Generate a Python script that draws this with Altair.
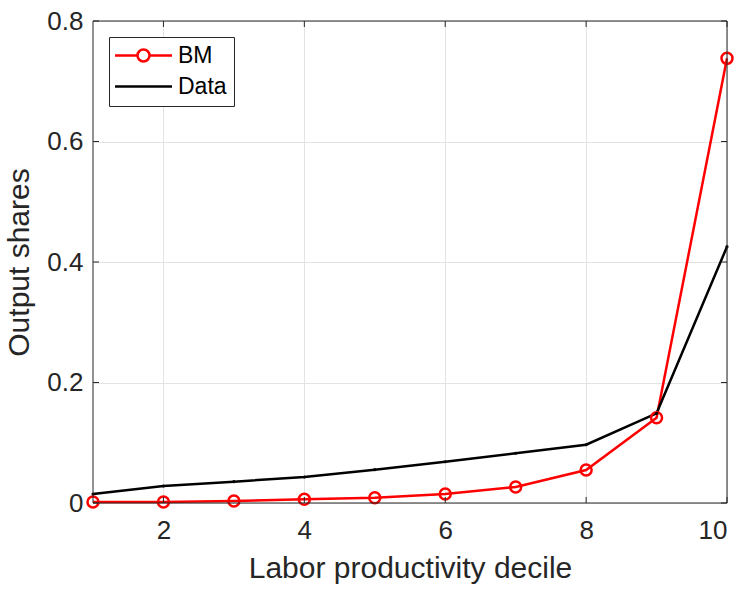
import altair as alt
import pandas as pd

deciles = list(range(1, 11))
bm = [0.0017, 0.0017, 0.0033, 0.0061, 0.0088, 0.0149, 0.0266, 0.0548, 0.1416, 0.738]
data_vals = [0.0149, 0.0282, 0.0354, 0.0432, 0.0553, 0.0685, 0.0825, 0.0968, 0.1489, 0.4254]
series_names = ["BM", "Data"]
series_colors = ["#ff0000", "#000000"]
x_ticks = [2, 4, 6, 8, 10]
y_ticks = [0, 0.2, 0.4, 0.6, 0.8]

df = pd.DataFrame({
    "decile": deciles * 2,
    "share": bm + data_vals,
    "series": ["BM"] * 10 + ["Data"] * 10,
})
df_xt = pd.DataFrame({"decile": x_ticks})
df_yt = pd.DataFrame({"share": y_ticks})
df_one = pd.DataFrame({"a": [0]})

W, H = 634, 482
FONT = "Liberation Sans"
TXT = "#262626"

xscale = alt.Scale(domain=[1, 10], nice=False, zero=False)
yscale = alt.Scale(domain=[0, 0.8], nice=False)

x_enc = alt.X("decile:Q", scale=xscale, title="Labor productivity decile",
              axis=alt.Axis(values=x_ticks, labelPadding=14, titlePadding=10))
y_enc = alt.Y("share:Q", scale=yscale, title="Output shares",
              axis=alt.Axis(values=y_ticks, format=".1~f", labelPadding=10, titlePadding=12))

bm_path = "M-4.75,0H-1M1,0H4.75M1,0A1,1,0,1,1,-1,0A1,1,0,1,1,1,0"
data_path = "M-4.75,0H4.75"
sym_expr = f"datum.value === 'BM' ? '{bm_path}' : '{data_path}'"

lines = alt.Chart(df).mark_line(strokeWidth=2.5).encode(
    x=x_enc,
    y=y_enc,
    color=alt.Color("series:N",
                    scale=alt.Scale(domain=series_names, range=series_colors),
                    legend=alt.Legend(
                        title=None, orient="none", legendX=16, legendY=16,
                        labelFont=FONT, labelFontSize=23, labelColor="#000000",
                        strokeColor=TXT, fillColor="#ffffff", padding=7,
                        symbolType={"expr": sym_expr}, symbolSize=144,
                        symbolStrokeWidth=2.5, symbolFillColor="#ffffff",
                        symbolOffset=16, labelOffset=23, rowPadding=7,
                        cornerRadius=0)),
)

bm_pts = alt.Chart(df).transform_filter(alt.datum.series == "BM").mark_point(
    shape="circle", size=121, strokeWidth=2.5, filled=False, color="#ff0000", opacity=1
).encode(x=x_enc, y=y_enc)

data_pts = alt.Chart(df).transform_filter(alt.datum.series == "Data").mark_circle(
    size=10, color="#000000", opacity=1
).encode(x=x_enc, y=y_enc)

box = alt.Chart(df_one).mark_rect(fill=None, stroke=TXT, strokeWidth=1).encode(
    x=alt.value(0), x2=alt.value(W), y=alt.value(0), y2=alt.value(H))

tick_bottom = alt.Chart(df_xt).mark_rule(color=TXT, strokeWidth=1).encode(
    x=x_enc, y=alt.value(H), y2=alt.value(H - 6))
tick_top = alt.Chart(df_xt).mark_rule(color=TXT, strokeWidth=1).encode(
    x=x_enc, y=alt.value(0), y2=alt.value(6))
tick_left = alt.Chart(df_yt).mark_rule(color=TXT, strokeWidth=1).encode(
    y=y_enc, x=alt.value(0), x2=alt.value(6))
tick_right = alt.Chart(df_yt).mark_rule(color=TXT, strokeWidth=1).encode(
    y=y_enc, x=alt.value(W - 6), x2=alt.value(W))

chart = alt.layer(
    lines, bm_pts, data_pts, box, tick_bottom, tick_top, tick_left, tick_right
).properties(
    width=W, height=H,
    autosize=alt.AutoSizeParams(type="none"),
    padding={"left": 93, "top": 21, "right": 16, "bottom": 86},
    background="#ffffff",
).configure_view(stroke=None).configure_axis(
    domain=False, ticks=False, grid=True, gridColor="#e3e3e3", gridWidth=1,
    labelFont=FONT, labelFontSize=26, labelColor=TXT,
    titleFont=FONT, titleFontSize=30, titleFontWeight="normal", titleColor=TXT,
)

chart.save("out.html", embed_options={"renderer": "svg", "actions": False})
